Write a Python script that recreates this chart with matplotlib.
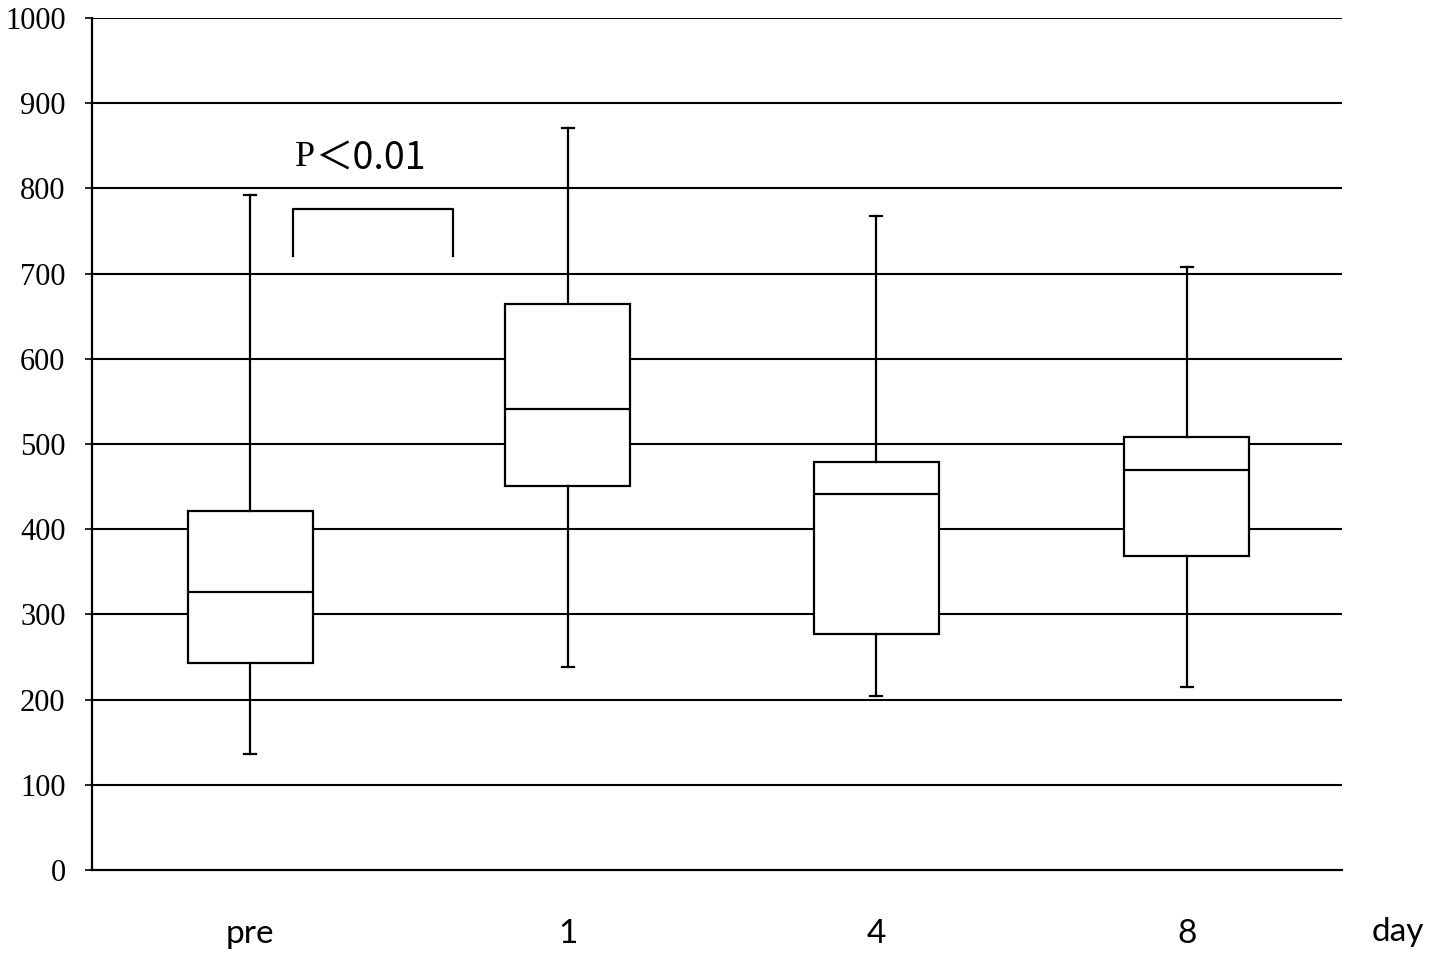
import matplotlib.pyplot as plt

# box statistics (values in units of the y axis)
groups = ["pre", "1", "4", "8"]
whisker_low = [136, 238, 204, 215]
q1 = [243, 451, 277, 369]
median = [326, 541, 441, 469]
q3 = [421, 664, 479, 508]
whisker_high = [792, 871, 768, 708]

y_ticks = [0, 100, 200, 300, 400, 500, 600, 700, 800, 900, 1000]

fig = plt.figure(figsize=(14.41, 9.66), dpi=100)
ax = fig.add_axes([0.0638, 0.0994, 0.8675, 0.882])

# horizontal grid lines
for t in y_ticks[1:]:
    ax.axhline(t, color="black", linewidth=1.5, zorder=1)

stats = []
for i in range(len(groups)):
    stats.append({
        "whislo": whisker_low[i], "q1": q1[i], "med": median[i],
        "q3": q3[i], "whishi": whisker_high[i], "fliers": [],
    })

positions = [0.506, 1.523, 2.509, 3.504]
ax.bxp(stats, positions=positions, widths=0.4, showfliers=False,
       patch_artist=True,
       boxprops=dict(facecolor="white", edgecolor="black", linewidth=1.6),
       medianprops=dict(color="black", linewidth=1.6),
       whiskerprops=dict(color="black", linewidth=1.6),
       capprops=dict(color="black", linewidth=1.6),
       capwidths=0.04, zorder=3)

ax.set_xlim(0, 4)
ax.set_ylim(0, 1000)
ax.set_yticks(y_ticks)
ax.set_yticklabels([str(t) for t in y_ticks], fontsize=22,
                   family="Liberation Serif")
ax.set_xticks(positions)
ax.set_xticklabels(groups, fontsize=24, family="Lato")
ax.tick_params(axis="x", length=0, pad=35)
ax.tick_params(axis="y", length=5, width=1.2, direction="out", pad=14)

for side in ["top", "right"]:
    ax.spines[side].set_visible(False)
ax.spines["left"].set_linewidth(1.6)
ax.spines["bottom"].set_linewidth(1.6)

ax.text(4.18, -73, "day", fontsize=24, family="Lato",
        ha="center", va="center", clip_on=False)

# significance bracket
ax.plot([0.643, 0.643, 1.155, 1.155], [721, 776, 776, 721],
        color="black", linewidth=1.6, zorder=3)
ax.text(0.65, 836, "P", fontsize=26, family="Liberation Serif",
        ha="left", va="center")
ax.text(0.715, 834, "＜0.01", fontsize=27, family=["Noto Sans CJK JP", "DejaVu Sans"],
        ha="left", va="center")

fig.savefig("out.png", dpi=100)
